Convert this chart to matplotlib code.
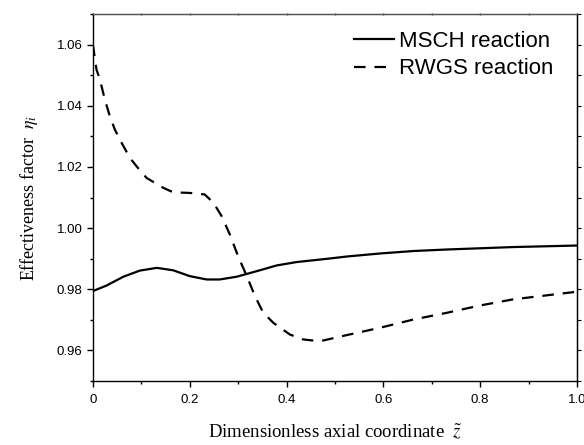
import numpy as np
import matplotlib
matplotlib.use("Agg")
import matplotlib.pyplot as plt
from matplotlib.ticker import MultipleLocator

plt.rcParams["mathtext.fontset"] = "stix"

# MSCH reaction (solid line)
z_msch = [0.0, 0.028, 0.063, 0.097, 0.132, 0.166, 0.2, 0.235, 0.262, 0.297,
          0.338, 0.38, 0.421, 0.486, 0.524, 0.593, 0.662, 0.731, 0.8, 0.868, 1.0]
eta_msch = [0.9794, 0.9812, 0.9841, 0.9861, 0.9870, 0.9862, 0.9843, 0.9832, 0.9832, 0.9841,
            0.9859, 0.9878, 0.9889, 0.9900, 0.9907, 0.9917, 0.9925, 0.9930, 0.9934, 0.9938, 0.9943]

# RWGS reaction (dashed line)
z_rwgs = [0.0, 0.0076, 0.0145, 0.0248, 0.035, 0.0455, 0.0593, 0.0764, 0.0903, 0.111,
          0.145, 0.166, 0.2, 0.231, 0.249, 0.266, 0.283, 0.300, 0.318, 0.335,
          0.352, 0.373, 0.407, 0.434, 0.469, 0.524, 0.593, 0.662, 0.731, 0.8,
          0.868, 1.0]
eta_rwgs = [1.0600, 1.0518, 1.0486, 1.0420, 1.0366, 1.0322, 1.0279, 1.0230, 1.0202, 1.0164,
            1.0132, 1.0117, 1.0115, 1.0110, 1.0083, 1.0039, 0.9979, 0.9908, 0.9843, 0.9777,
            0.9723, 0.9690, 0.9652, 0.9636, 0.9630, 0.9650, 0.9674, 0.9701, 0.9723, 0.9747,
            0.9767, 0.9792]

fig = plt.figure(figsize=(5.84, 4.45), dpi=100)
ax = fig.add_axes([0.159, 0.1438, 0.829, 0.8247])

ax.plot(z_msch, eta_msch, color="black", lw=1.6, label="MSCH reaction")
ax.plot(z_rwgs, eta_rwgs, color="black", lw=1.6, dashes=(5.2, 4.0), label="RWGS reaction")

ax.set_xlim(0, 1.0)
ax.set_ylim(0.95, 1.07)
ax.xaxis.set_minor_locator(MultipleLocator(0.1))
ax.yaxis.set_minor_locator(MultipleLocator(0.01))
ax.set_xticks([0, 0.2, 0.4, 0.6, 0.8, 1.0])
ax.set_xticklabels(["0", "0.2", "0.4", "0.6", "0.8", "1.0"])
ax.set_yticks([0.96, 0.98, 1.00, 1.02, 1.04, 1.06])
ax.set_yticklabels(["0.96", "0.98", "1.00", "1.02", "1.04", "1.06"])

for lab in ax.get_xticklabels() + ax.get_yticklabels():
    lab.set_family("Liberation Sans")
    lab.set_fontsize(9.5)

ax.tick_params(which="major", direction="out", length=4.5, width=1)
ax.tick_params(which="minor", direction="out", length=2.5, width=1)
ax.tick_params(axis="x", which="major", pad=5)
ax.tick_params(axis="y", which="major", pad=3)
ax.tick_params(top=False, right=False)

# mirrored ticks on top and right
sec_x = ax.secondary_xaxis("top")
sec_x.xaxis.set_major_locator(MultipleLocator(0.1))
sec_x.tick_params(direction="inout", length=2, width=1, labeltop=False, color="#555555")
sec_x.spines["top"].set_color("#555555")
sec_y = ax.secondary_yaxis("right")
sec_y.yaxis.set_major_locator(MultipleLocator(0.01))
sec_y.tick_params(direction="out", length=3, width=0.8, labelright=False)

for s in ax.spines.values():
    s.set_linewidth(1.0)
ax.spines["top"].set_color("#555555")

ax.set_xlabel(r"Dimensionless axial coordinate  $\tilde{z}$", family="Liberation Serif",
              fontsize=13.5, labelpad=12)
ax.set_ylabel(r"Effectiveness factor  $\eta_i$", family="Liberation Serif",
              fontsize=13, labelpad=12)

ax.legend(loc="upper right", frameon=False, prop={"family": "Liberation Sans", "size": 16},
          handlelength=1.8, handletextpad=0.22, labelspacing=0.29,
          borderaxespad=0, bbox_to_anchor=(0.969, 0.978))

fig.savefig("out.png", dpi=100)
